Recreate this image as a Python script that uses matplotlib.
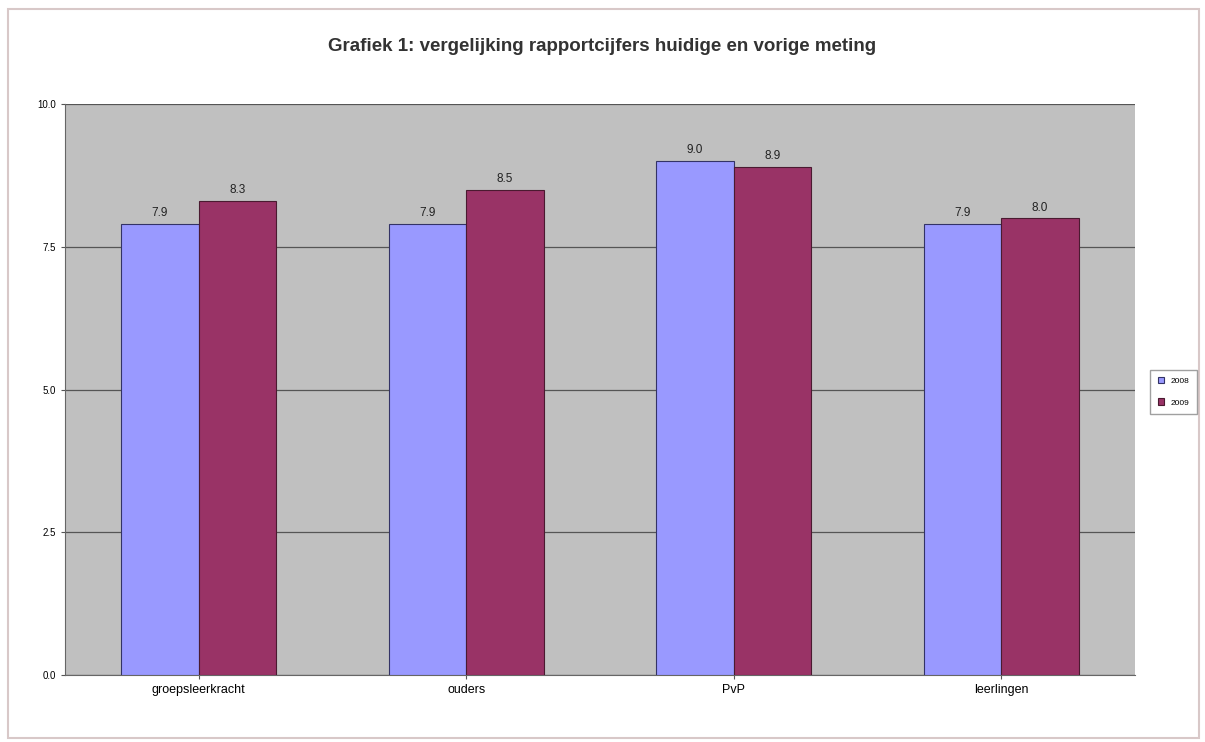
import numpy as np
import matplotlib.pyplot as plt
from matplotlib.patches import Rectangle

plt.rcParams['font.family'] = ['Liberation Sans', 'DejaVu Sans']

categories = ['groepsleerkracht', 'ouders', 'PvP', 'leerlingen']
series_names = ['2008', '2009']
vorige = [7.9, 7.9, 9.0, 7.9]
huidige = [8.3, 8.5, 8.9, 8.0]
yticks = [0.0, 2.5, 5.0, 7.5, 10.0]

fig = plt.figure(figsize=(12.05, 7.42), dpi=100)
fig.patch.set_facecolor('white')
fig.add_artist(Rectangle((0.007, 0.006), 0.988, 0.982, transform=fig.transFigure,
                         fill=False, edgecolor='#d8c8c8', linewidth=1.5))

ax = fig.add_axes([0.054, 0.09, 0.888, 0.77])
ax.set_facecolor('#c0c0c0')

x = np.arange(len(categories))
w = 0.29
b1 = ax.bar(x - w / 2, vorige, w, color='#9999ff', edgecolor='#333366',
            linewidth=0.8, label=series_names[0], zorder=3)
b2 = ax.bar(x + w / 2, huidige, w, color='#993366', edgecolor='#4a1a30',
            linewidth=0.8, label=series_names[1], zorder=3)

for bars, vals in ((b1, vorige), (b2, huidige)):
    for bar, v in zip(bars, vals):
        ax.text(bar.get_x() + bar.get_width() / 2, v + 0.08, f'{v:.1f}',
                ha='center', va='bottom', fontsize=8.5, color='#222222', zorder=4)

ax.set_xlim(-0.5, len(categories) - 0.5)
ax.set_ylim(0, 10)
ax.set_yticks(yticks)
ax.set_yticklabels([f'{t:.1f}' for t in yticks], fontsize=7)
ax.yaxis.grid(True, color='#555555', linewidth=0.9, zorder=1)
ax.set_xticks(x)
ax.set_xticklabels(categories, fontsize=9)
ax.tick_params(axis='both', length=3, color='#555555')
for side in ('top', 'right'):
    ax.spines[side].set_visible(False)
for side in ('left', 'bottom'):
    ax.spines[side].set_color('#666666')

fig.text(0.5, 0.937, 'Grafiek 1: vergelijking rapportcijfers huidige en vorige meting',
         ha='center', va='center', fontsize=13.5, fontweight='bold', color='#333333')

fig.legend(loc='center left', bbox_to_anchor=(0.951, 0.472), fontsize=6,
           frameon=True, edgecolor='#888888', fancybox=False,
           handlelength=0.8, handleheight=0.8, borderpad=0.9, labelspacing=1.6)

fig.savefig('out.png', dpi=100)
